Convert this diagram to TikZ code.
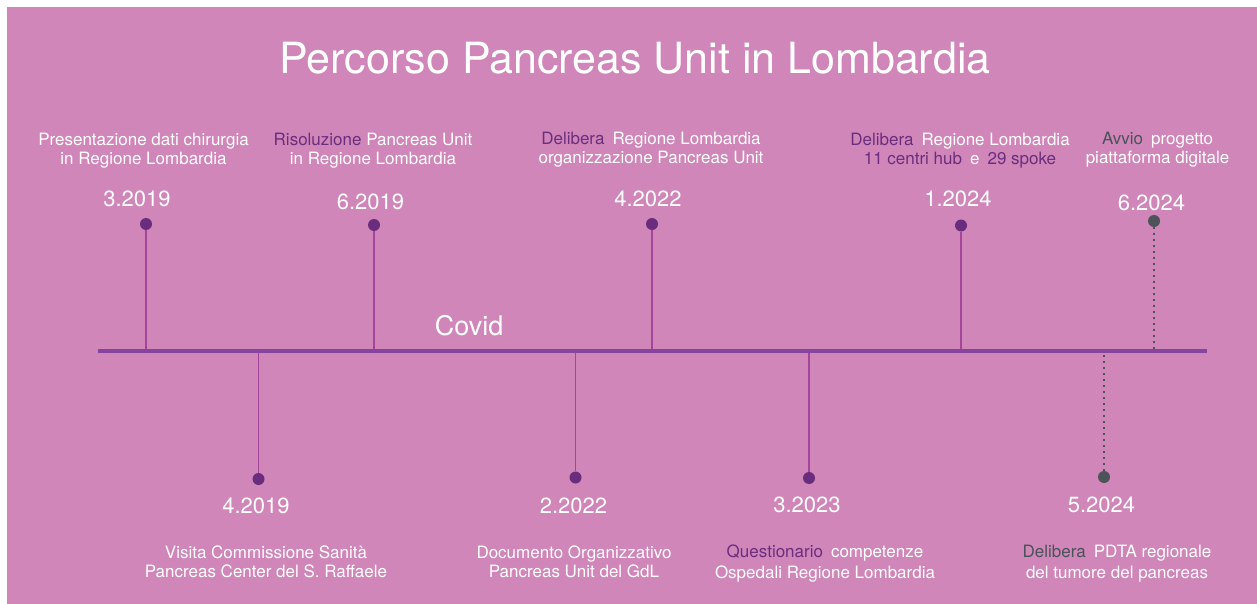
\documentclass[tikz,border=0pt]{standalone}
\usepackage{fontspec}
\setmainfont{TeX Gyre Heros}
\definecolor{bgP}{HTML}{D086B9}
\definecolor{axisC}{HTML}{86449C}
\definecolor{stemC}{HTML}{A5449B}
\definecolor{dotP}{HTML}{6A2C7D}
\definecolor{dotG}{HTML}{4C5359}
\definecolor{txtP}{HTML}{6B2D7E}
\definecolor{txtG}{HTML}{4A5259}
\newcommand\gp{\hspace{8pt}}
\tikzset{
  lbl/.style={text=white, align=center, font=\fontsize{17}{19}\selectfont, inner sep=0pt, anchor=base},
  datelbl/.style={text=white, font=\fontsize{22}{26}\selectfont, inner sep=0pt, anchor=base},
  dotnode/.style={circle, fill=dotP, inner sep=0pt, minimum size=12pt},
  gdotnode/.style={dotnode, fill=dotG},
  stem/.style={draw=stemC, line width=1.3pt},
  dstem/.style={draw=dotG, line width=2pt, dash pattern=on 2pt off 4pt},
  axisline/.style={draw=axisC, line width=4pt}
}
\begin{document}
\begin{tikzpicture}[x=1pt,y=-1pt]
\useasboundingbox (0,0) rectangle (1257,604);
\fill[bgP] (7,7) rectangle (1257,604);
% title
\node[text=white, font=\fontsize{43}{50}\selectfont, inner sep=0pt, anchor=base] (title) at (635,74) {Percorso Pancreas Unit in Lombardia};
% axis
\coordinate (axL) at (98,350.8);
\coordinate (axR) at (1207,350.8);
% top dots
\node[dotnode] (t1) at (146,224) {};
\node[dotnode] (t2) at (374,225) {};
\node[dotnode] (t3) at (652,224) {};
\node[dotnode] (t4) at (961,225.5) {};
\node[gdotnode] (t5) at (1154,221) {};
% bottom dots
\node[dotnode] (b1) at (258.5,479) {};
\node[dotnode] (b2) at (575.5,477.5) {};
\node[dotnode] (b3) at (809,478) {};
\node[gdotnode] (b4) at (1104,477) {};
% stems
\draw[stem] (t1) -- (t1 |- axL);
\draw[stem] (t2) -- (t2 |- axL);
\draw[stem] (t3) -- (t3 |- axL);
\draw[stem] (t4) -- (t4 |- axL);
\draw[dstem] (t5) -- (t5 |- axL);
\draw[stem] (b1) -- (b1 |- axL);
\draw[stem] (b2) -- (b2 |- axL);
\draw[stem] (b3) -- (b3 |- axL);
\draw[dstem] (b4) -- (b4 |- axL);
\draw[axisline] (axL) -- (axR);
% covid
\node[text=white, font=\fontsize{27}{32}\selectfont, inner sep=0pt, anchor=base] (covid) at (469,335) {Covid};
% top dates
\node[datelbl] (dt1) at (137,207) {3.2019};
\node[datelbl] (dt2) at (370.5,209) {6.2019};
\node[datelbl] (dt3) at (648,207) {4.2022};
\node[datelbl] (dt4) at (958,207) {1.2024};
\node[datelbl] (dt5) at (1151.5,210) {6.2024};
% bottom dates
\node[datelbl] (db1) at (256,513.5) {4.2019};
\node[datelbl] (db2) at (573.5,513) {2.2022};
\node[datelbl] (db3) at (807,512) {3.2023};
\node[datelbl] (db4) at (1101.5,512) {5.2024};
% top labels (anchor = baseline of last line)
\node[lbl] (lt1) at (143.5,165) {Presentazione dati chirurgia\\in Regione Lombardia};
\node[lbl] (lt2) at (373,165) {\textcolor{txtP}{Risoluzione} Pancreas Unit\\in Regione Lombardia};
\node[lbl] (lt3) at (651,164) {\textcolor{txtP}{Delibera}\gp Regione Lombardia\\organizzazione Pancreas Unit};
\node[lbl] (lt4) at (960,164.5) {\textcolor{txtP}{Delibera}\gp Regione Lombardia\\\textcolor{txtP}{11 centri hub}\gp e\gp\textcolor{txtP}{29 spoke}};
\node[lbl] (lt5) at (1157.5,164) {\textcolor{txtG}{Avvio}\gp progetto\\piattaforma digitale};
% bottom labels
\node[lbl] (lb1) at (266,577.5) {Visita Commissione Sanità\\Pancreas Center del S. Raffaele};
\node[lbl] (lb2) at (574,577) {Documento Organizzativo\\Pancreas Unit del GdL};
\node[lbl, font=\fontsize{17}{21}\selectfont] (lb3) at (825,578) {\textcolor{txtP}{Questionario}\gp competenze\\Ospedali Regione Lombardia};
\node[lbl, font=\fontsize{17}{21}\selectfont] (lb4) at (1117,578) {\textcolor{txtG}{Delibera}\gp PDTA regionale\\del tumore del pancreas};
\end{tikzpicture}
\end{document}
